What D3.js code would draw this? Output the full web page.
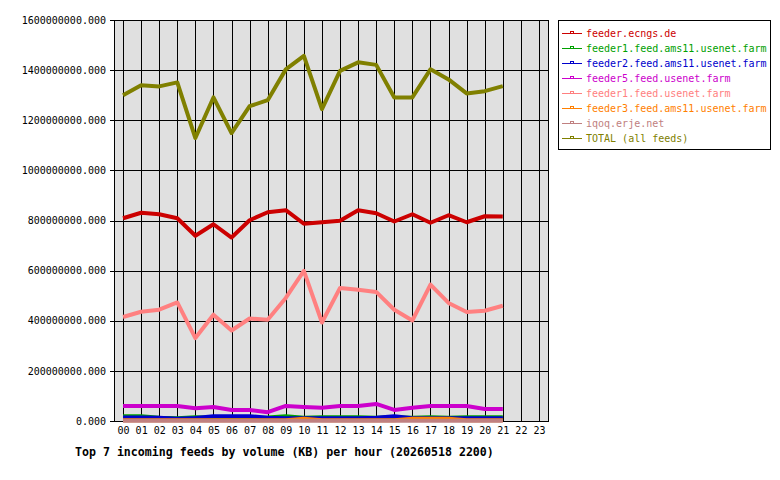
<!DOCTYPE html>
<html>
<head>
<meta charset="utf-8">
<script src="https://cdn.jsdelivr.net/npm/d3@7"></script>
<style>
  body { margin: 0; background: #fff; }
  text { font-family: "DejaVu Sans Mono", monospace; }
</style>
</head>
<body>
<div id="chart"></div>
<script>
// hours on the x axis
const hours = d3.range(24).map(h => String(h).padStart(2, "0"))
const yTicks = [0, 200e6, 400e6, 600e6, 800e6, 1000e6, 1200e6, 1400e6, 1600e6]
const unit = 1e6 // values below are in millions of KB

const seriesNames = [
  "feeder.ecngs.de",
  "feeder1.feed.ams11.usenet.farm",
  "feeder2.feed.ams11.usenet.farm",
  "feeder5.feed.usenet.farm",
  "feeder1.feed.usenet.farm",
  "feeder3.feed.ams11.usenet.farm",
  "iqoq.erje.net",
  "TOTAL (all feeds)"
]
const seriesColors = ["#cc0000", "#00a000", "#0000cc", "#cc00cc", "#ff8080", "#ff8000", "#c08080", "#808000"]

const ecngs  = [809, 831, 825, 809, 739, 785, 732, 801, 833, 841, 787, 793, 799, 841, 829, 796, 825, 791, 821, 793, 817, 816]
const ams11a = [19, 19, 13, 11, 15, 13, 13, 13, 14, 19, 13, 15, 15, 15, 13, 15, 13, 15, 13, 15, 15, 15]
const ams11b = [14, 14, 13, 9, 12, 19, 19, 19, 13, 11, 11, 11, 11, 11, 13, 19, 11, 11, 11, 11, 11, 11]
const farm5  = [60, 60, 60, 60, 51, 56, 44, 44, 35, 60, 56, 53, 60, 60, 68, 44, 53, 60, 60, 60, 48, 48]
const farm1  = [415, 436, 444, 473, 331, 424, 361, 409, 404, 491, 599, 393, 531, 524, 515, 444, 401, 544, 471, 435, 440, 460]
const ams11c = [3, 3, 3, 3, 3, 3, 3, 3, 3, 3, 9, 3, 3, 3, 3, 3, 9, 9, 9, 3, 3, 3]
const iqoq   = [1, 1, 1, 1, 1, 1, 1, 1, 1, 1, 1, 1, 1, 1, 1, 1, 1, 1, 1, 1, 1, 1]
const total  = [1300, 1340, 1335, 1351, 1129, 1291, 1149, 1256, 1280, 1403, 1457, 1244, 1397, 1431, 1421, 1291, 1291, 1403, 1363, 1307, 1316, 1336]

const seriesValues = [ecngs, ams11a, ams11b, farm5, farm1, ams11c, iqoq, total]

const W = 780, H = 480
const plot = { left: 114, right: 548, top: 20, bottom: 421 }

const svg = d3.select("#chart").append("svg")
              .attr("width", W)
              .attr("height", H)

const x = d3.scalePoint()
            .domain(hours)
            .range([plot.left, plot.right])
            .padding(0.5)

const y = d3.scaleLinear()
            .domain([0, 1600e6])
            .range([plot.bottom, plot.top])

// plot background
svg.append("rect")
   .attr("x", plot.left)
   .attr("y", plot.top)
   .attr("width", plot.right - plot.left)
   .attr("height", plot.bottom - plot.top)
   .attr("fill", "#e0e0e0")

// y axis with full-width grid
const yAxis = d3.axisLeft(y)
                .tickValues(yTicks)
                .tickFormat(d3.format(".3f"))
                .tickSize(plot.right - plot.left + 4)
                .tickPadding(4)

svg.append("g")
   .attr("transform", `translate(${plot.right}, 0)`)
   .call(yAxis)
   .call(g => g.select(".domain").remove())
   .call(g => g.selectAll("line").attr("stroke", "#000").attr("shape-rendering", "crispEdges"))
   .call(g => g.selectAll("text").attr("font-size", 10).attr("fill", "#000")
               .attr("font-family", "DejaVu Sans Mono, monospace"))

// x axis with vertical grid
const xAxis = d3.axisBottom(x)
                .tickSize(-(plot.bottom - plot.top))
                .tickPadding(6)

svg.append("g")
   .attr("transform", `translate(0, ${plot.bottom})`)
   .call(xAxis)
   .call(g => g.select(".domain").remove())
   .call(g => g.selectAll("line").attr("stroke", "#000").attr("shape-rendering", "crispEdges"))
   .call(g => g.selectAll("text").attr("font-size", 10).attr("fill", "#000")
               .attr("font-family", "DejaVu Sans Mono, monospace"))

// frame
svg.append("rect")
   .attr("x", plot.left)
   .attr("y", plot.top)
   .attr("width", plot.right - plot.left)
   .attr("height", plot.bottom - plot.top)
   .attr("fill", "none")
   .attr("stroke", "#000")
   .attr("shape-rendering", "crispEdges")

const line = d3.line()
               .x((d, i) => x(hours[i]))
               .y(d => y(d * unit))

svg.append("g")
   .selectAll(".series")
   .data(seriesValues)
   .join("path")
   .attr("class", "series")
   .attr("d", line)
   .attr("fill", "none")
   .attr("stroke", (d, i) => seriesColors[i])
   .attr("stroke-width", 4)
   .attr("stroke-linejoin", "round")

// title
svg.append("text")
   .attr("x", 75)
   .attr("y", 456)
   .attr("font-size", 11.6)
   .attr("font-weight", "bold")
   .text("Top 7 incoming feeds by volume (KB) per hour (20260518 2200)")

// legend
svg.append("rect")
   .attr("x", 558.5)
   .attr("y", 20.5)
   .attr("width", 212)
   .attr("height", 129)
   .attr("fill", "#fff")
   .attr("stroke", "#000")

const items = svg.append("g")
                 .selectAll(".item")
                 .data(seriesNames)
                 .join("g")
                 .attr("class", "item")
                 .attr("transform", (d, i) => `translate(562, ${33.5 + i * 15})`)

items.append("line")
     .attr("x1", 0).attr("x2", 20)
     .attr("stroke", (d, i) => seriesColors[i])
     .attr("shape-rendering", "crispEdges")

items.append("rect")
     .attr("x", 8.5).attr("y", -2.5)
     .attr("width", 3).attr("height", 2)
     .attr("fill", "none")
     .attr("stroke", (d, i) => seriesColors[i])
     .attr("shape-rendering", "crispEdges")

items.append("text")
     .attr("x", 24)
     .attr("y", 3.5)
     .attr("font-size", 10)
     .attr("fill", (d, i) => seriesColors[i])
     .text(d => d)
</script>
</body>
</html>
